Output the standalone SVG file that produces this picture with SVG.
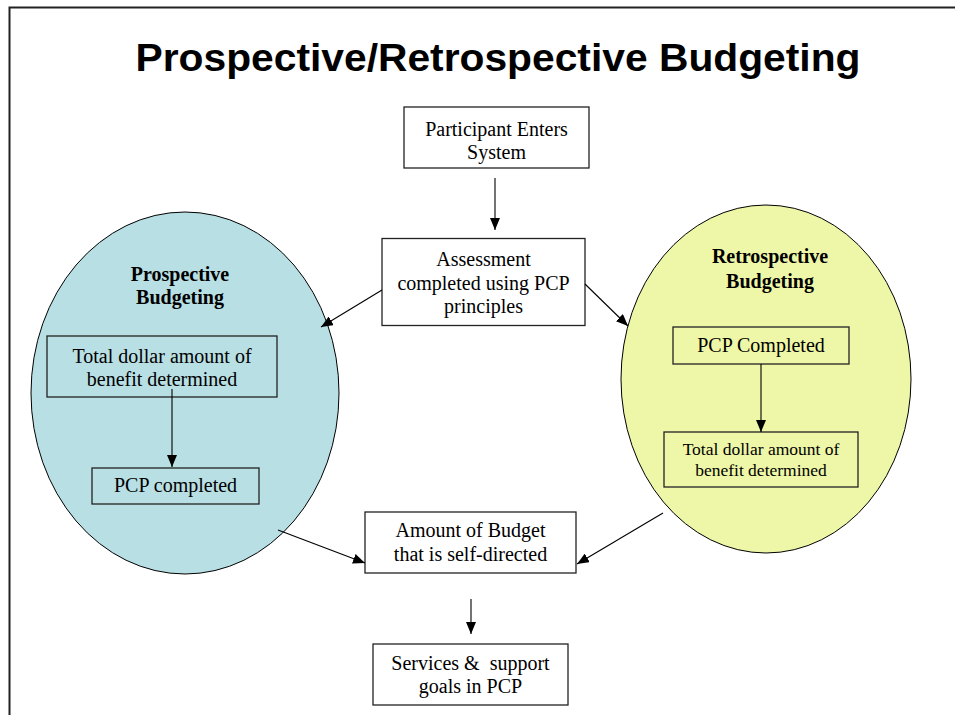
<svg xmlns="http://www.w3.org/2000/svg" width="955" height="715" viewBox="0 0 955 715">
<style>
.t{font-family:"Liberation Serif","Times New Roman",serif;font-size:20px;fill:#000;text-anchor:middle;white-space:pre}
.s{font-size:17.5px}
.b{font-weight:bold}
.box{fill:#fff;stroke:#222;stroke-width:1.3}
.ibox{fill:none;stroke:#222;stroke-width:1.3}
.c{stroke:#000;stroke-width:1.1;fill:none;marker-end:url(#ah)}
</style>
<defs>
<marker id="ah" markerUnits="userSpaceOnUse" markerWidth="12" markerHeight="10" refX="12" refY="5" orient="auto">
<path d="M0,0 L12,5 L0,10 z" fill="#000"/>
</marker>
</defs>
<rect width="955" height="715" fill="#fff"/>
<path d="M9.5,716 V7.5 H956" fill="none" stroke="#222" stroke-width="2"/>
<text x="498" y="70.5" font-family="'Liberation Sans',Arial,sans-serif" font-weight="bold" font-size="38" text-anchor="middle" textLength="725" lengthAdjust="spacingAndGlyphs">Prospective/Retrospective Budgeting</text>

<g id="prospective">
<ellipse cx="185" cy="393" rx="154" ry="181" fill="#b8dfe4" stroke="#000" stroke-width="1"/>
<text class="t b" x="180" y="281">Prospective</text>
<text class="t b" x="180" y="304">Budgeting</text>
</g>
<g id="retrospective">
<ellipse cx="766" cy="379" rx="145" ry="174" fill="#eef7a7" stroke="#000" stroke-width="1"/>
<text class="t b" x="770" y="263">Retrospective</text>
<text class="t b" x="770" y="288">Budgeting</text>
</g>

<g id="participant">
<rect class="box" x="404" y="107" width="185" height="61"/>
<text class="t" x="496.5" y="136">Participant Enters</text>
<text class="t" x="496.5" y="159">System</text>
</g>
<g id="assessment">
<rect class="box" x="382" y="238.5" width="203" height="87"/>
<text class="t" x="483.5" y="266">Assessment</text>
<text class="t" x="483.5" y="290">completed using PCP</text>
<text class="t" x="483.5" y="313">principles</text>
</g>
<g id="pros-total">
<rect class="ibox" x="47" y="336" width="230" height="61"/>
<text class="t" x="162" y="363">Total dollar amount of</text>
<text class="t" x="162" y="386">benefit determined</text>
</g>
<g id="pros-pcp">
<rect class="ibox" x="92" y="468" width="167" height="36"/>
<text class="t" x="175.5" y="492">PCP completed</text>
</g>
<g id="retro-pcp">
<rect class="ibox" x="673" y="327" width="176" height="37"/>
<text class="t" x="761" y="352">PCP Completed</text>
</g>
<g id="retro-total">
<rect class="ibox" x="664" y="432" width="194" height="55"/>
<text class="t s" x="761" y="455">Total dollar amount of</text>
<text class="t s" x="761" y="476">benefit determined</text>
</g>
<g id="amount">
<rect class="box" x="365" y="512" width="211" height="61"/>
<text class="t" x="470.5" y="537">Amount of Budget</text>
<text class="t" x="470.5" y="561">that is self-directed</text>
</g>
<g id="services">
<rect class="box" x="373" y="644" width="195" height="61"/>
<text class="t" x="470.5" y="670">Services &amp;  support</text>
<text class="t" x="470.5" y="693">goals in PCP</text>
</g>

<g id="connectors">
<line class="c" x1="495" y1="178" x2="495" y2="230"/>
<line class="c" x1="382" y1="290" x2="321" y2="327"/>
<line class="c" x1="585" y1="284" x2="628" y2="326"/>
<line class="c" x1="172" y1="389" x2="172" y2="467"/>
<line class="c" x1="761" y1="364" x2="761" y2="432"/>
<line class="c" x1="278" y1="530" x2="365" y2="563"/>
<line class="c" x1="663" y1="513" x2="577" y2="564"/>
<line class="c" x1="471" y1="599" x2="471" y2="634"/>
</g>
</svg>
